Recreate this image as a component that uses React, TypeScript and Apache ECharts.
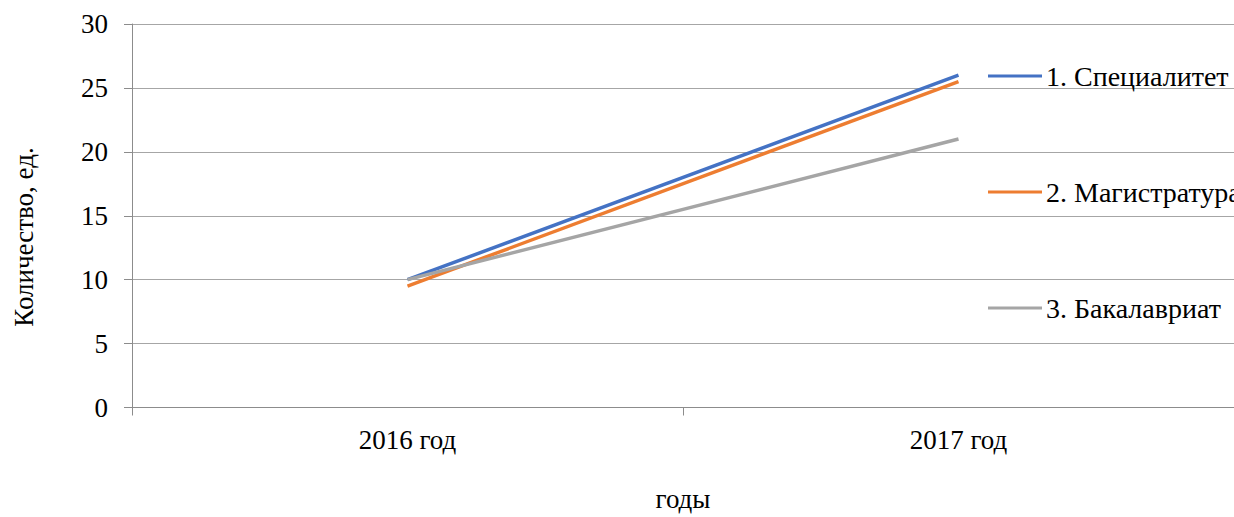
import React, { useEffect, useRef } from "react";
import * as echarts from "echarts";

const years = ["2016 год", "2017 год"];
const specialitet = [10, 26];
const magistratura = [9.5, 25.5];
const bakalavriat = [10, 21];
const seriesNames = ["1. Специалитет", "2. Магистратура", "3. Бакалавриат"];
const seriesColors = ["#4472C4", "#ED7D31", "#A5A5A5"];
const yTitle = "Количество, ед.";
const xTitle = "годы";

const FONT = "'Liberation Serif', 'Times New Roman', serif";
const FS = 27;
const LEGEND_FS = 28;

export default function App() {
  const ref = useRef<HTMLDivElement>(null);

  useEffect(() => {
    document.documentElement.style.overflow = "hidden";
    document.body.style.margin = "0";
    document.body.style.overflow = "hidden";
    const chart = echarts.init(ref.current!, null, { renderer: "svg", width: 1234, height: 517 });
    const values = [specialitet, magistratura, bakalavriat];
    const text = { fontFamily: FONT, fontSize: FS, color: "#000" };
    chart.setOption({
      animation: false,
      backgroundColor: "#ffffff",
      textStyle: { fontFamily: FONT },
      grid: { left: 132, top: 24, right: -10, bottom: 100.5, containLabel: false },
      legend: {
        orient: "vertical",
        left: 983,
        top: 57,
        icon: "rect",
        itemWidth: 54,
        itemHeight: 3,
        itemGap: 88,
        data: seriesNames,
        textStyle: { fontFamily: FONT, fontSize: LEGEND_FS, color: "#000", lineHeight: LEGEND_FS, padding: [0, 0, 0, -1] },
      },
      graphic: [
        {
          type: "text",
          x: 24,
          y: 237,
          rotation: Math.PI / 2,
          style: { text: yTitle, font: `${FS}px ${FONT}`, fill: "#000", align: "center", verticalAlign: "middle" },
        },
      ],
      xAxis: {
        type: "category",
        data: years,
        boundaryGap: true,
        name: xTitle,
        nameLocation: "middle",
        nameGap: 77.5,
        nameTextStyle: { ...text, lineHeight: FS },
        axisLine: { lineStyle: { color: "#8c8c8c", width: 1 } },
        axisTick: { show: true, length: 8, lineStyle: { color: "#8c8c8c" } },
        axisLabel: { ...text, lineHeight: FS, margin: 19 },
      },
      yAxis: {
        type: "value",
        min: 0,
        max: 30,
        interval: 5,
        axisLine: { show: true, lineStyle: { color: "#8c8c8c", width: 1 } },
        axisTick: { show: true, length: 8, lineStyle: { color: "#8c8c8c" } },
        axisLabel: { ...text, margin: 24 },
        splitLine: { show: true, lineStyle: { color: "#a6a6a6", width: 1 } },
      },
      series: seriesNames.map((name, i) => ({
        name,
        type: "line",
        data: values[i],
        symbol: "none",
        itemStyle: { color: seriesColors[i] },
        lineStyle: { color: seriesColors[i], width: 3.5 },
      })),
    });
    return () => chart.dispose();
  }, []);

  return (
    <div style={{ position: "absolute", left: 0, top: 0, width: 1234, height: 517, overflow: "hidden" }}>
      <div ref={ref} style={{ width: 1234, height: 517 }} />
    </div>
  );
}
